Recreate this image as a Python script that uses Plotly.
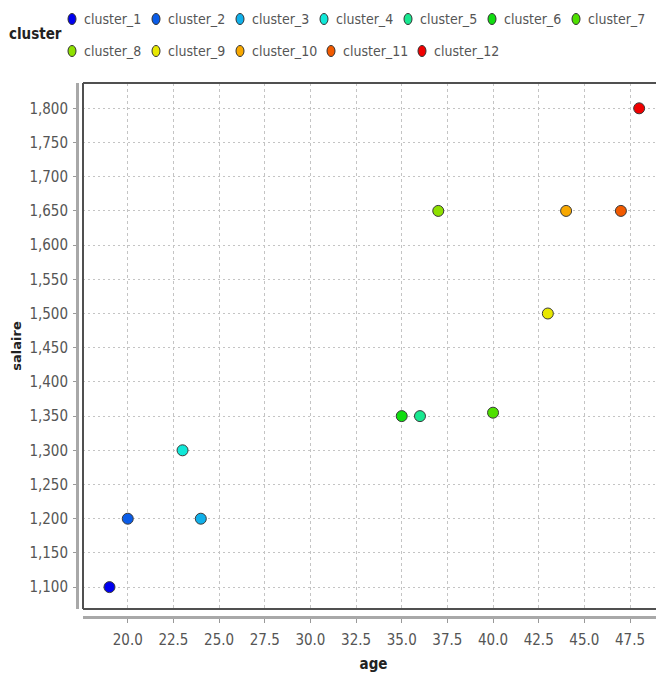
import plotly.graph_objects as go

# ---- data ----
clusters = ["cluster_1", "cluster_2", "cluster_3", "cluster_4", "cluster_5", "cluster_6",
            "cluster_7", "cluster_8", "cluster_9", "cluster_10", "cluster_11", "cluster_12"]
age = [19, 20, 24, 23, 36, 35, 40, 37, 43, 44, 47, 48]
salaire = [1100, 1200, 1200, 1300, 1350, 1350, 1355, 1650, 1500, 1650, 1650, 1800]

# ---- style ----
colors = ["#0000f0", "#0a5ce8", "#10b0ea", "#10e8d8", "#18e890", "#10dd10",
          "#4ee000", "#8ee000", "#e8e800", "#f8a800", "#f25a00", "#f00000"]
FONT = "Liberation Sans Narrow, DejaVu Sans Condensed, Arial Narrow, sans-serif"
OFF = 8                                   # page body margin
W, H = 664 - OFF, 675 - OFF
ML, MR, MT, MB = 77 - OFF, 0, 83 - OFF, 58   # paper area = where the gray axis lines sit
PW, PH = W - ML - MR, H - MT - MB
FRAME_L, FRAME_B = 83 - OFF, 609 - OFF    # plot frame (pixels in figure)


def px_x(p):
    return (p - OFF - ML) / PW


def px_y(p):
    return (H - MB - (p - OFF)) / PH


fig = go.Figure()
for name, a, s, c in zip(clusters, age, salaire, colors):
    fig.add_trace(go.Scatter(
        x=[a], y=[s], mode="markers", name=name, showlegend=False,
        marker=dict(color=c, size=11, line=dict(color="#3a3a3a", width=1)),
    ))

# ---- manual legend (page pixel positions) ----
shapes = []
annotations = []
row_y = [19, 51]
x0 = 72
xpos = x0
for i, (name, c) in enumerate(zip(clusters, colors)):
    row = 0 if i < 7 else 1
    if i == 7:
        xpos = x0
    cy = row_y[row]
    shapes.append(dict(type="circle", xref="paper", yref="paper", xsizemode="pixel", ysizemode="pixel",
                       xanchor=px_x(xpos), yanchor=px_y(cy), x0=-4, x1=4, y0=-5.5, y1=5.5,
                       fillcolor=c, line=dict(color="#333333", width=1)))
    annotations.append(dict(text=name, xref="paper", yref="paper", x=px_x(xpos + 10), y=px_y(cy),
                            xanchor="left", yanchor="middle", showarrow=False,
                            font=dict(family=FONT, size=14, color="#555555")))
    xpos += 21 + 7 * len(name)

annotations.append(dict(text="<b>cluster</b>", xref="paper", yref="paper", x=px_x(7), y=px_y(34),
                        xanchor="left", yanchor="middle", showarrow=False,
                        font=dict(family=FONT, size=15, color="#222222")))

# ---- plot frame (dark) ----
frame = dict(color="#505050", width=2)
shapes += [
    dict(type="line", xref="x domain", yref="y domain", x0=0, x1=0, y0=0, y1=1, line=frame),
    dict(type="line", xref="x domain", yref="y domain", x0=0, x1=1.02, y0=1, y1=1, line=frame),
    dict(type="line", xref="x domain", yref="y domain", x0=0, x1=1.02, y0=0, y1=0, line=frame),
]

fig.update_layout(
    width=W, height=H,
    margin=dict(l=ML, r=MR, t=MT, b=MB, pad=0),
    paper_bgcolor="white", plot_bgcolor="white",
    font=dict(family=FONT, size=15, color="#555555"),
    shapes=shapes, annotations=annotations,
    xaxis=dict(
        domain=[(FRAME_L - ML) / PW, 1], anchor="free", position=0,
        range=[17.55, 49.36], tickmode="linear", tick0=20, dtick=2.5, tickformat=".1f",
        showgrid=True, gridcolor="#c4c4c4", griddash="3px,3px", gridwidth=1,
        showline=True, linecolor="#a8a8a8", linewidth=3,
        ticks="outside", ticklen=4, tickcolor="#999999", ticklabelstandoff=4,
        zeroline=False,
        title=dict(text="<b>age</b>", font=dict(family=FONT, size=15, color="#222222"), standoff=10),
    ),
    yaxis=dict(
        domain=[(H - MB - FRAME_B) / PH, 1], anchor="free", position=0,
        range=[1068, 1837], tickmode="linear", tick0=1100, dtick=50, tickformat=",",
        showgrid=True, gridcolor="#c4c4c4", griddash="2px,3px", gridwidth=1,
        showline=True, linecolor="#a8a8a8", linewidth=3,
        ticks="outside", ticklen=3, tickcolor="#999999", ticklabelstandoff=2,
        zeroline=False,
        title=dict(text="<b>salaire</b>", font=dict(family="DejaVu Sans, sans-serif", size=13, color="#222222"), standoff=3),
    ),
)

fig.write_html("out.html")
